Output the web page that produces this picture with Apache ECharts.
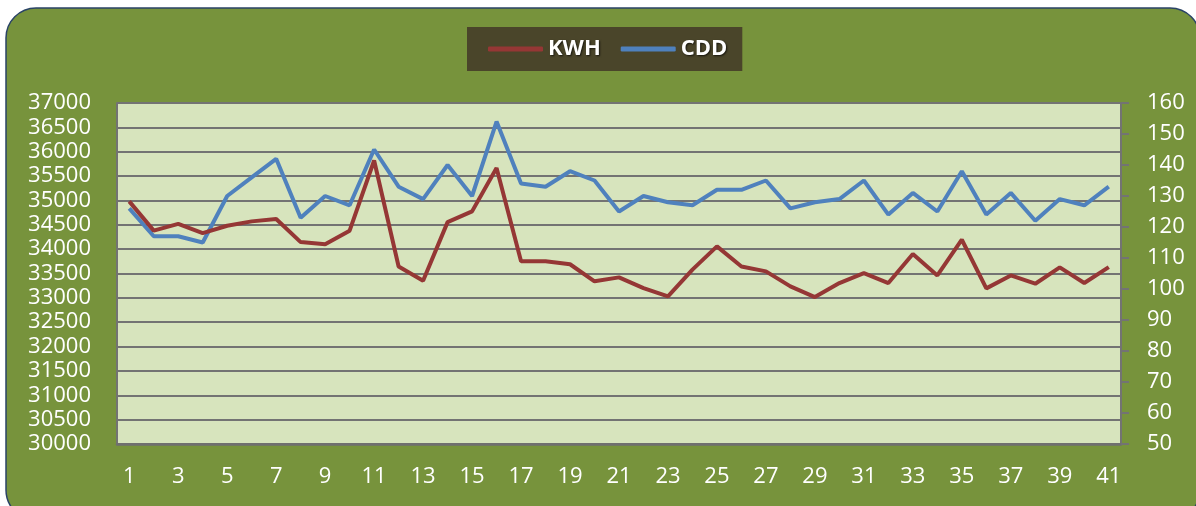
<!DOCTYPE html>
<html>
<head>
<meta charset="utf-8">
<script src="https://cdn.jsdelivr.net/npm/echarts@6/dist/echarts.min.js"></script>
<style>
  html, body { margin: 0; padding: 0; background: #ffffff; }
  #chart { width: 1196px; height: 506px; }
</style>
</head>
<body>
<div id="chart"></div>
<script>
const days = [];
for (let i = 1; i <= 41; i++) days.push(String(i));

const kwh = [34980, 34380, 34520, 34330, 34480, 34570, 34620, 34145, 34100, 34380,
  35820, 33645, 33350, 34555, 34775, 35665, 33750, 33750, 33690, 33340,
  33420, 33200, 33030, 33580, 34056, 33645, 33543, 33235, 33016, 33304,
  33509, 33304, 33899, 33461, 34193, 33195, 33461, 33290, 33625, 33304, 33632];

const cdd = [126, 117, 117, 115, 130, 136, 142, 123, 130, 127,
  145, 133, 129, 140, 130, 154, 134, 133, 138, 135,
  125, 130, 128, 127, 132, 132, 135, 126, 128, 129,
  135, 124, 131, 125, 138, 124, 131, 122, 129, 127, 133];

const font = "'Open Sans', 'DejaVu Sans', sans-serif";
const chart = echarts.init(document.getElementById("chart"));

chart.setOption({
  backgroundColor: "#ffffff",
  animation: false,
  textStyle: { fontFamily: font },
  graphic: [
    {
      type: "rect",
      z: -10,
      shape: { x: 6, y: 8, width: 1194, height: 512, r: 30 },
      style: { fill: "#77933c", stroke: "#2a4366", lineWidth: 1.5 },
    },
    {
      type: "rect",
      z: -5,
      shape: { x: 117, y: 103, width: 1004, height: 341 },
      style: { fill: "#d7e4bd" },
    },
  ],
  legend: {
    left: 467,
    top: 27,
    backgroundColor: "#4a452a",
    padding: [11, 15, 11, 21],
    itemWidth: 55,
    itemHeight: 5,
    itemGap: 20,
    icon: "roundRect",
    textStyle: {
      color: "#ffffff",
      fontSize: 22,
      fontWeight: "bold",
      fontFamily: font,
      textShadowColor: "rgba(0,0,0,0.7)",
      textShadowBlur: 2,
      textShadowOffsetX: 1,
      textShadowOffsetY: 1,
    },
    data: ["KWH", "CDD"],
  },
  grid: { left: 117, right: 75, top: 103, bottom: 62 },
  xAxis: {
    type: "category",
    data: days,
    boundaryGap: true,
    axisLine: { lineStyle: { color: "#6f6f6f", width: 2.5 } },
    axisTick: { show: false },
    axisLabel: { interval: 1, color: "#ffffff", fontSize: 22, margin: 22, fontFamily: font },
  },
  yAxis: [
    {
      type: "value",
      min: 30000,
      max: 37000,
      interval: 500,
      axisLine: { show: true, lineStyle: { color: "#737373", width: 2 } },
      axisTick: { show: false },
      axisLabel: {
        color: "#ffffff",
        fontSize: 22,
        margin: 26,
        fontFamily: font,
        formatter: (v) => String(v),
      },
      splitLine: { lineStyle: { color: "#737373", width: 2 } },
    },
    {
      type: "value",
      min: 50,
      max: 160,
      interval: 10,
      position: "right",
      axisLine: { show: true, lineStyle: { color: "#737373", width: 2 } },
      axisTick: { show: true, length: 8, lineStyle: { color: "#737373", width: 2 } },
      axisLabel: { color: "#ffffff", fontSize: 22, margin: 26, fontFamily: font },
      splitLine: { show: false },
    },
  ],
  series: [
    {
      name: "KWH",
      type: "line",
      data: kwh,
      yAxisIndex: 0,
      symbol: "none",
      lineStyle: { color: "#953735", width: 4 },
      itemStyle: { color: "#953735" },
      z: 3,
    },
    {
      name: "CDD",
      type: "line",
      data: cdd,
      yAxisIndex: 1,
      symbol: "none",
      lineStyle: { color: "#4f81bd", width: 4 },
      itemStyle: { color: "#4f81bd" },
      z: 2,
    },
  ],
});
</script>
</body>
</html>
